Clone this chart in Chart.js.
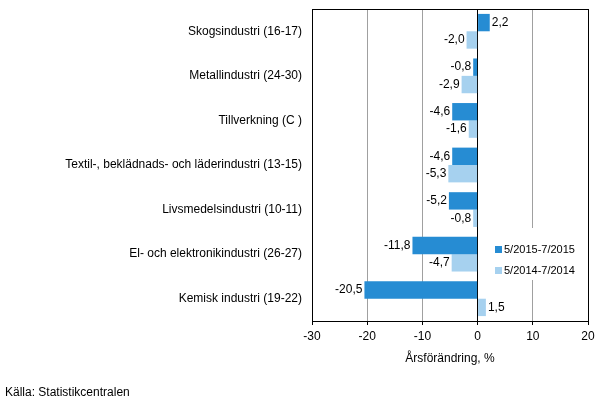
<!DOCTYPE html>
<html><head><meta charset="utf-8">
<script src="https://cdn.jsdelivr.net/npm/chart.js@4"></script>
<style>html,body{margin:0;padding:0;background:#fff}#w{width:605px;height:416px}</style>
</head><body><div id="w"><canvas id="c" width="605" height="416"></canvas></div>
<script>
const categories = ["Skogsindustri (16-17)","Metallindustri (24-30)","Tillverkning (C )","Textil-, beklädnads- och läderindustri (13-15)","Livsmedelsindustri (10-11)","El- och elektronikindustri (26-27)","Kemisk industri (19-22)"];
const seriesNames = ["5/2015-7/2015","5/2014-7/2014"];
const series2015 = [2.2,-0.8,-4.6,-4.6,-5.2,-11.8,-20.5];
const series2014 = [-2.0,-2.9,-1.6,-5.3,-0.8,-4.7,1.5];
const xTicks = [-30,-20,-10,0,10,20];
const colors = ["#268cd3","#a6d1ef"];
const FONT = "'Liberation Sans', Arial, sans-serif";

const fmt = v => v.toFixed(1).replace('.', ',');

const decor = {
  id:'decor',
  beforeDatasetsDraw(chart){
    const a = chart.chartArea, ctx = chart.ctx;
    ctx.save();
    ctx.fillStyle = '#fff';
    ctx.fillRect(a.right-102, a.top+219, 100, 52);
    ctx.restore();
  },
  afterDatasetsDraw(chart){
    const ctx = chart.ctx, a = chart.chartArea;
    ctx.save();
    ctx.font = "12px " + FONT;
    ctx.fillStyle = '#000';
    ctx.textBaseline = 'middle';
    chart.data.datasets.forEach((ds, di) => {
      chart.getDatasetMeta(di).data.forEach((el, i) => {
        const v = ds.data[i];
        if (v >= 0) { ctx.textAlign = 'left'; ctx.fillText(fmt(v), el.x + 2, el.y); }
        else { ctx.textAlign = 'right'; ctx.fillText(fmt(v), el.x - 2, el.y); }
      });
    });
    ctx.strokeStyle = '#000'; ctx.lineWidth = 1;
    ctx.strokeRect(Math.round(a.left)+0.5, Math.round(a.top)+0.5, Math.round(a.right-a.left), Math.round(a.bottom-a.top));
    ctx.font = "11px " + FONT;
    ctx.textAlign = 'left';
    const lx = a.right - 93;
    const ly = [a.top + 240, a.top + 261];
    seriesNames.forEach((n, k) => {
      ctx.fillStyle = colors[k];
      ctx.fillRect(lx, ly[k]-3, 7, 7);
      ctx.fillStyle = '#000';
      ctx.fillText(n, lx + 9, ly[k]+0.5);
    });
    ctx.font = "12px " + FONT;
    ctx.fillText("Källa: Statistikcentralen", 5, 393);
    ctx.restore();
  }
};

new Chart(document.getElementById('c'), {
  type:'bar',
  data:{
    labels:categories,
    datasets:[
      {label:seriesNames[0], data:series2015, backgroundColor:colors[0], categoryPercentage:0.78, barPercentage:1},
      {label:seriesNames[1], data:series2014, backgroundColor:colors[1], categoryPercentage:0.78, barPercentage:1}
    ]
  },
  options:{
    indexAxis:'y',
    responsive:false,
    animation:false,
    devicePixelRatio:1,
    layout:{padding:{top:9,right:17,left:0,bottom:47}},
    plugins:{legend:{display:false},tooltip:{enabled:false}},
    scales:{
      x:{
        min:-30,max:20,
        afterBuildTicks(s){ s.ticks = xTicks.map(v=>({value:v})); },
        afterFit(s){ s.height = 48; },
        grid:{
          color:c => (c.tick && (c.tick.value===0||c.tick.value===-30||c.tick.value===20)) ? '#000' : '#a0a0a0',
          tickColor:'#000', tickLength:4, drawTicks:true
        },
        border:{color:'#000'},
        ticks:{color:'#000', font:{family:FONT,size:12}, padding:4, maxRotation:0},
        title:{display:true, text:'Årsförändring, %', color:'#000', font:{family:FONT,size:12}, padding:{top:4,bottom:3}}
      },
      y:{
        afterFit(s){ s.width = 312; s.paddingTop = 0; s.paddingBottom = 0; },
        grid:{display:false},
        border:{color:'#000'},
        ticks:{color:'#000', font:{family:FONT,size:12}, padding:2}
      }
    }
  },
  plugins:[decor]
});
</script></body></html>
